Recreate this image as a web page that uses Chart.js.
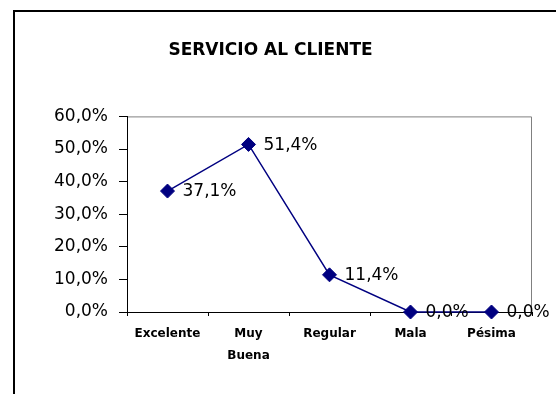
<!DOCTYPE html>
<html>
<head>
<meta charset="utf-8">
<title>Servicio al cliente</title>
<script src="https://cdn.jsdelivr.net/npm/chart.js@4/dist/chart.umd.min.js"></script>
<style>
  html, body { margin: 0; padding: 0; background: #fff; overflow: hidden; }
  #frame {
    position: absolute; left: 13px; top: 10px; width: 600px; height: 420px;
    border-left: 2px solid #000; border-top: 2px solid #000; box-sizing: border-box;
  }
  #chart { position: absolute; left: 0; top: 0; }
</style>
</head>
<body>
<div id="frame"></div>
<canvas id="chart" width="556" height="394"></canvas>
<script>
// Survey results: customer service rating
const chartTitle = 'SERVICIO AL CLIENTE';
const categories = ['Excelente', ['Muy', 'Buena'], 'Regular', 'Mala', 'Pésima'];
const percentages = [37.1, 51.4, 11.4, 0.0, 0.0];
const yTicks = { min: 0, max: 60, step: 10 };

const fmtPct = v => v.toFixed(1).replace('.', ',') + '%';

const FONT = 'DejaVu Sans';

// grey frame on the top and right of the plot area
const plotFrame = {
  id: 'plotFrame',
  beforeDraw(chart) {
    const { ctx, chartArea: a } = chart;
    ctx.save();
    ctx.strokeStyle = '#808080';
    ctx.lineWidth = 1;
    ctx.beginPath();
    ctx.moveTo(a.left, a.top + 0.5);
    ctx.lineTo(a.right - 0.5, a.top + 0.5);
    ctx.lineTo(a.right - 0.5, a.bottom);
    ctx.stroke();
    ctx.restore();
  }
};

// value labels to the right of each point
const valueLabels = {
  id: 'valueLabels',
  afterDatasetsDraw(chart) {
    const { ctx } = chart;
    chart.data.datasets.forEach((ds, i) => {
      const meta = chart.getDatasetMeta(i);
      meta.data.forEach((pt, j) => {
        ctx.save();
        ctx.font = `17px "${FONT}"`;
        ctx.fillStyle = '#000';
        ctx.textAlign = 'left';
        ctx.textBaseline = 'middle';
        ctx.fillText(fmtPct(ds.data[j]), pt.x + 15, pt.y + 1);
        ctx.restore();
      });
    });
  }
};

new Chart(document.getElementById('chart'), {
  type: 'line',
  data: {
    labels: categories,
    datasets: [{
      data: percentages,
      borderColor: '#000080',
      borderWidth: 1.5,
      tension: 0,
      pointStyle: 'rectRot',
      pointRadius: 7,
      pointBackgroundColor: '#000080',
      pointBorderColor: '#000080',
      pointBorderWidth: 1,
      clip: false
    }]
  },
  options: {
    responsive: false,
    animation: false,
    events: [],
    layout: { padding: { left: 9, right: 24, top: 0, bottom: 0 } },
    plugins: {
      legend: { display: false },
      tooltip: { enabled: false },
      title: {
        display: true,
        text: chartTitle,
        color: '#000',
        font: { family: FONT, size: 17, weight: 'bold', lineHeight: 1.2 },
        padding: { top: 40, bottom: 56 }
      }
    },
    scales: {
      x: {
        offset: true,
        grid: { offset: true, drawOnChartArea: false, drawTicks: true, tickLength: 4, color: '#000' },
        border: { display: true, color: '#000', width: 1 },
        ticks: {
          color: '#000',
          padding: 7,
          maxRotation: 0,
          autoSkip: false,
          font: { family: FONT, size: 12, weight: 'bold', lineHeight: 1.83 }
        },
        afterFit(scale) { scale.height = 82; }
      },
      y: {
        min: yTicks.min,
        max: yTicks.max,
        grid: { drawOnChartArea: false, drawTicks: true, tickLength: 8, color: '#000' },
        border: { display: true, color: '#000', width: 1 },
        ticks: {
          stepSize: yTicks.step,
          color: '#000',
          padding: 11,
          font: { family: FONT, size: 17 },
          callback: v => fmtPct(v)
        },
        afterFit(scale) { scale.width = 118; }
      }
    }
  },
  plugins: [plotFrame, valueLabels]
});
</script>
</body>
</html>
